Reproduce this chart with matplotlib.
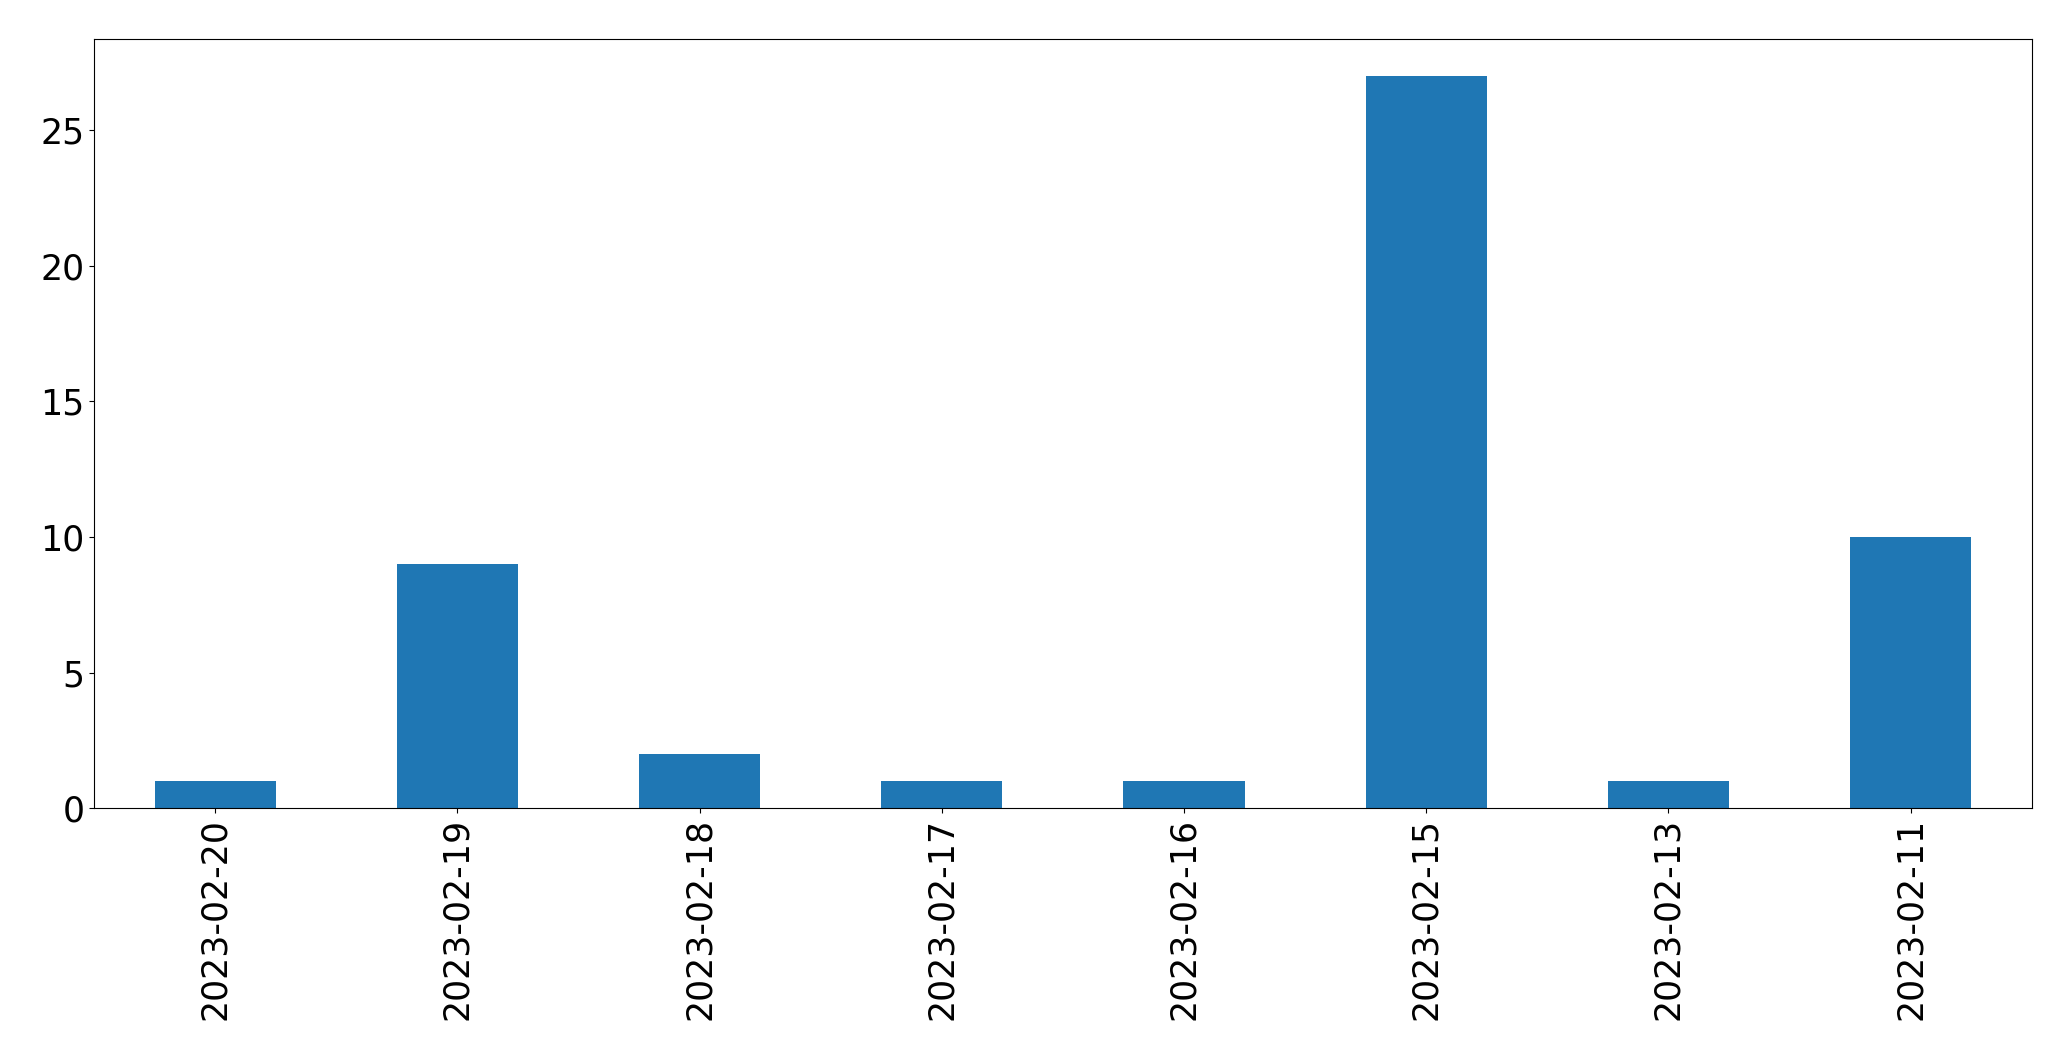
import pandas as pd
import numpy as np
import matplotlib
matplotlib.use('Agg')
import matplotlib.pyplot as plt

#daily counts, newest first
dates = ['2023-02-20', '2023-02-19', '2023-02-18', '2023-02-17',
         '2023-02-16', '2023-02-15', '2023-02-13', '2023-02-11']
counts = [1, 9, 2, 1, 1, 27, 1, 10]

s = pd.Series(counts, index=dates)

fig, ax = plt.subplots(figsize=(20.71, 10.61), dpi=100)
s.plot(kind='bar', ax=ax, color='#1f77b4', fontsize=25)
ax.set_xticklabels(dates, rotation=90)
plt.subplots_adjust(left=0.0455, right=0.981, top=0.963, bottom=0.238)
plt.savefig('out.png', dpi=100)
